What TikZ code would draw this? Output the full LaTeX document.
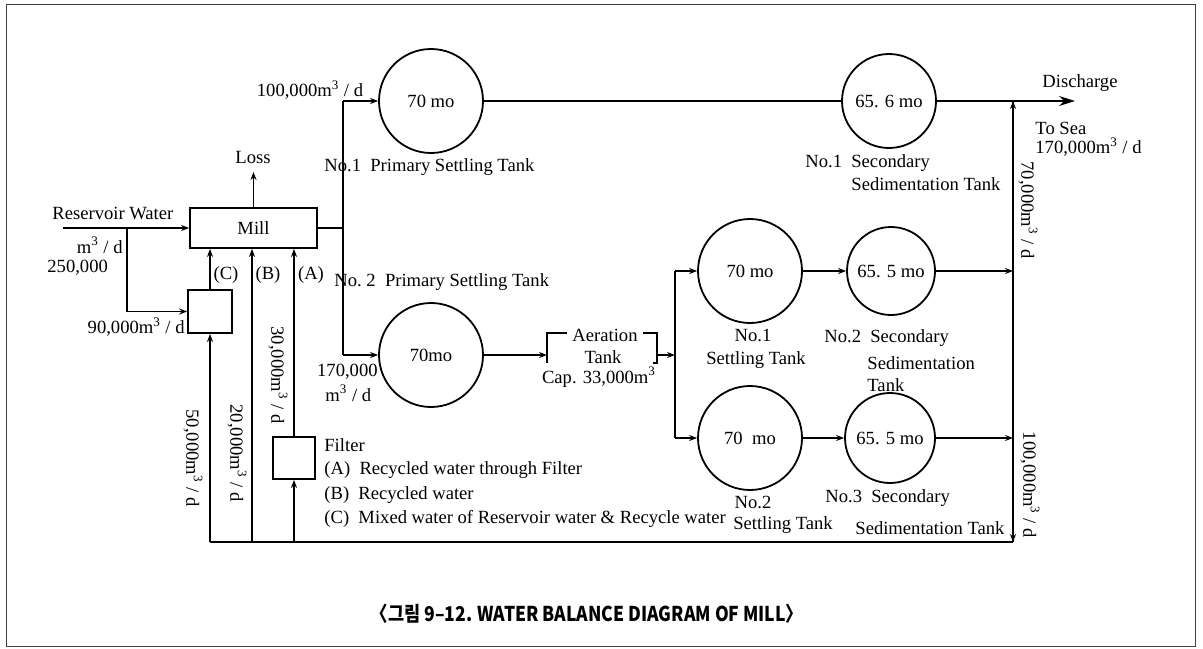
\documentclass[tikz,border=0pt]{standalone}
\usepackage{fontspec}
\setmainfont{Liberation Serif}
\newfontfamily\krfont{Noto Sans CJK KR}[FakeStretch=0.86]
\usepackage{tikz}
\usetikzlibrary{arrows.meta}

\begin{document}
\begin{tikzpicture}[x=0.5pt, y=-0.5pt,
  tank/.style={circle, draw, line width=0.9pt, inner sep=0pt, minimum size=52pt, font=\fontsize{9.3}{11}\selectfont},
  small/.style={tank, minimum size=46pt},
  box/.style={rectangle, draw, line width=0.9pt, inner sep=0pt, font=\fontsize{9.3}{11}\selectfont},
  lbl/.style={font=\fontsize{9.3}{11}\selectfont, inner sep=1pt},
  vlbl/.style={lbl, rotate=-90},
  pipe/.style={line width=0.8pt},
  >={Stealth[length=4pt, width=3pt]}]

\useasboundingbox (0,0) rectangle (1203,648);
% Frame
\draw[line width=0.5pt, black!75] (6,4) rectangle (1195,646);

% Mill, mixing box and filter
\node[box, minimum width=63.5pt, minimum height=20pt] (mill) at (253.5,228) {Mill};
\node[box, minimum width=22pt, minimum height=21.5pt] (mix) at (210,311.5) {};
\node[box, minimum width=21pt, minimum height=21pt] (filt) at (294,458) {};

% Primary settling tanks
\node[tank] (p1) at (431,101) {70 mo};
\node[tank] (p2) at (431,355) {70mo};

% Settling tanks
\node[tank] (st1) at (750,271) {70 mo};
\node[tank] (st2) at (750,438) {70~ mo};

% Secondary sedimentation tanks
\node[small, minimum size=47pt] (s1) at (889,101) {65. 6 mo};
\node[small, minimum size=44pt] (ss2) at (891,271) {65. 5 mo};
\node[small, minimum size=45pt] (ss3) at (890,438) {65. 5 mo};

% Junctions
\coordinate (res) at (63,228);
\coordinate (rsplit) at (127,228);
\coordinate (loss) at (253.5,172);
\coordinate (msplit) at (343,228);
\coordinate (ptop) at (343,101);
\coordinate (pbot) at (343,355);
\coordinate (aerin) at (547,355);
\coordinate (aerout) at (657,355);
\coordinate (ajunc) at (675,355);
\coordinate (atop) at (675,271);
\coordinate (abot) at (675,438);
\coordinate (dis) at (1075,101);
\coordinate (rtop) at (1013,101);
\coordinate (rmid) at (1013,271);
\coordinate (rbot) at (1013,438);
\coordinate (rcorner) at (1013,542);
\coordinate (bc) at (210,542);
\coordinate (bb) at (252,542);
\coordinate (ba) at (294,542);

% Feed to mill
\draw[pipe, ->] (res) -- (mill.west);
\draw[pipe, ->] (rsplit) |- (mix.west);
\draw[pipe, ->] (mill.north) -- (loss);
\draw[pipe, ->] (mix.north) -- (mix.north |- mill.south);
\draw[pipe, ->] (bb) -- (bb |- mill.south);
\draw[pipe, ->] (filt.north) -- (filt.north |- mill.south);

% Mill to primary tanks
\draw[pipe] (mill.east) -- (msplit);
\draw[pipe] (ptop) -- (pbot);
\draw[pipe, ->] (ptop) -- (p1.west);
\draw[pipe, ->] (pbot) -- (p2.west);
\draw[pipe] (p1.east) -- (s1.west);
\draw[pipe, -{Stealth[length=8pt, width=5pt]}] (s1.east) -- (dis);

% Aeration tank
\draw[pipe, ->] (p2.east) -- (aerin);
\draw[pipe] (567,333) -- (547,333) -- (547,363);
\draw[pipe] (643,333) -- (657,333) -- (657,363) -- (653,363);
\draw[pipe, ->] (aerout) -- (ajunc);
\draw[pipe] (atop) -- (abot);
\draw[pipe, ->] (atop) -- (st1.west);
\draw[pipe, ->] (abot) -- (st2.west);
\draw[pipe, ->] (st1.east) -- (ss2.west);
\draw[pipe, ->] (st2.east) -- (ss3.west);
\draw[pipe, ->] (ss2.east) -- (rmid);
\draw[pipe, ->] (ss3.east) -- (rbot);

% Return line
\draw[pipe] (rtop) -- (rcorner);
\draw[pipe, ->] (rmid) -- (rtop);
\draw[pipe, ->] (rbot) -- (rcorner);
\draw[pipe] (rcorner) -- (bc);
\draw[pipe, ->] (bc) -- (mix.south);
\draw[pipe, ->] (ba) -- (filt.south);

% Flow labels
\node[lbl] (l100) at (310,90) {100,000m\textsuperscript{3} / d};
\node[lbl, anchor=west] (lp1) at (322,167) {No.1\enspace Primary Settling Tank};
\node[lbl] (lloss) at (253,157) {Loss};
\node[lbl, anchor=west] (lres) at (50,213) {Reservoir Water};
\node[lbl, anchor=east] (lresu) at (125,245) {m\textsuperscript{3} / d};
\node[lbl, anchor=west] (lresv) at (45,268) {250,000};
\node[lbl, anchor=east] (l90) at (187,327) {90,000m\textsuperscript{3} / d};
\node[lbl] (lc) at (226,275) {(C)};
\node[lbl] (lb) at (268,275) {(B)};
\node[lbl] (la) at (311,275) {(A)};
\node[lbl, anchor=west] (lp2) at (332,282) {No.~2\enspace Primary Settling Tank};
\node[lbl, anchor=east] (l170) at (380,372) {170,000};
\node[lbl, anchor=west] (l170u) at (323,393) {m\textsuperscript{3} / d};
\node[vlbl] (l50) at (193,458) {50,000m\textsuperscript{3} / d};
\node[vlbl] (l20) at (237,453) {20,000m\textsuperscript{3} / d};
\node[vlbl] (l30) at (278,375) {30,000m\textsuperscript{3} / d};
\node[vlbl] (l70) at (1028,210) {70,000m\textsuperscript{3} / d};
\node[vlbl] (l100b) at (1030,485) {100,000m\textsuperscript{3} / d};

% Legend
\node[lbl, anchor=west] (lfilt) at (322,445) {Filter};
\node[lbl, anchor=west] (lega) at (322,470) {(A)\enspace Recycled water through Filter};
\node[lbl, anchor=west] (legb) at (322,495) {(B)\enspace Recycled water};
\node[lbl, anchor=west] (legc) at (322,519) {(C)\enspace Mixed water of Reservoir water \& Recycle water};

% Tank labels
\node[lbl] (laer) at (605,335) {Aeration};
\node[lbl] (laert) at (603,357) {Tank};
\node[lbl] (lcap) at (599,377) {Cap. 33,000m\textsuperscript{3}};
\node[lbl] (lst1) at (753,335) {No.1};
\node[lbl] (lst1b) at (756,360) {Settling Tank};
\node[lbl, anchor=west] (lss2) at (822,338) {No.2\enspace Secondary};
\node[lbl, anchor=west] (lss2b) at (865,363) {Sedimentation};
\node[lbl, anchor=west] (lss2c) at (865,385) {Tank};
\node[lbl] (lst2) at (753,502) {No.2};
\node[lbl] (lst2b) at (783,525) {Settling Tank};
\node[lbl, anchor=west] (lss3) at (823,498) {No.3\enspace Secondary};
\node[lbl, anchor=west] (lss3b) at (853,528) {Sedimentation Tank};
\node[lbl, anchor=west] (ls1) at (803,163) {No.1\enspace Secondary};
\node[lbl, anchor=west] (ls1b) at (849,184) {Sedimentation Tank};
\node[lbl] (ldis) at (1080,83) {Discharge};
\node[lbl, anchor=west] (lsea) at (1033,128) {To Sea};
\node[lbl, anchor=west] (lsea2) at (1033,147) {170,000m\textsuperscript{3} / d};

% Caption
\node[font=\krfont\bfseries\fontsize{10.2}{12}\selectfont] (cap) at (587,614)
  {〈그림 9–12. WATER BALANCE DIAGRAM OF MILL〉};

\end{tikzpicture}
\end{document}
